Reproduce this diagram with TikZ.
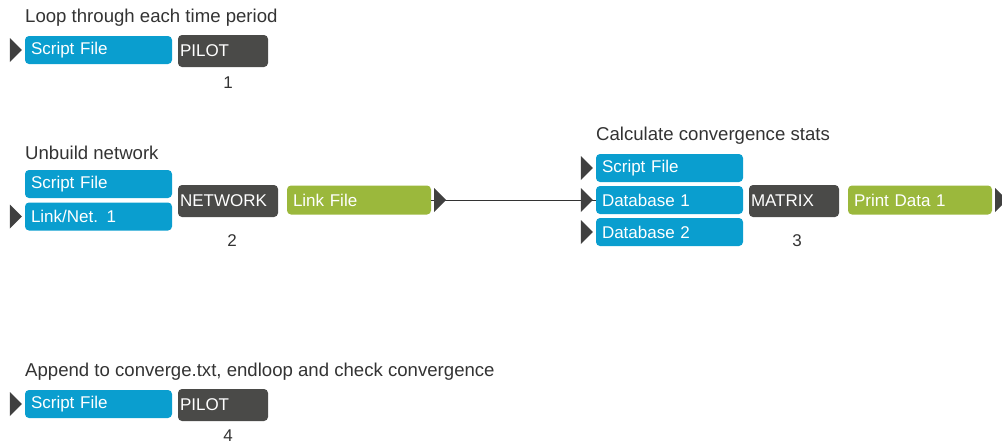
\documentclass[tikz,border=0pt]{standalone}
\usepackage{fontspec}
\setmainfont{Liberation Sans}
\definecolor{cblue}{HTML}{0A9ECF}
\definecolor{cdark}{HTML}{4A4A48}
\definecolor{cgreen}{HTML}{9BB83C}
\definecolor{ctri}{HTML}{404040}
\definecolor{ctext}{HTML}{333333}
\tikzset{
  every node/.style={font=\fontsize{17}{20}\selectfont},
  databox/.style={rounded corners=4pt, fill=cblue, text=white, minimum height=28pt,
    text width=135pt, inner xsep=6pt, inner ysep=0pt, align=left},
  progbox/.style={rounded corners=4pt, fill=cdark, text=white, minimum height=32pt,
    inner xsep=2pt, inner ysep=0pt, align=left},
  outbox/.style={rounded corners=4pt, fill=cgreen, text=white, minimum height=29pt,
    text width=132pt, inner xsep=6pt, inner ysep=0pt, align=left},
  titletext/.style={text=ctext, anchor=west, inner sep=0pt, font=\fontsize{18.6}{22}\selectfont},
  numtext/.style={text=ctext, inner sep=0pt},
  link/.style={draw=ctext, line width=1pt},
}
\newcommand{\inport}[1]{\fill[ctri] ([xshift=-15pt,yshift=12pt]#1.west) -- ([xshift=-3pt]#1.west) -- ([xshift=-15pt,yshift=-12pt]#1.west) -- cycle;}
\newcommand{\outport}[1]{\fill[ctri] ([xshift=3pt,yshift=12pt]#1.east) -- ([xshift=15pt]#1.east) -- ([xshift=3pt,yshift=-12pt]#1.east) -- cycle;}
\begin{document}
\begin{tikzpicture}[x=1pt,y=-1pt]
\useasboundingbox (0,0) rectangle (1002,445);
% Block 1
\node[titletext] (t1) at (25,18) {Loop through each time period};
\node[databox] (s1) at (98.5,50) {Script File};
\node[progbox, minimum width=90pt, text width=86pt] (p1) at (223,51) {PILOT};
\node[numtext] (n1) at (228,83) {1};
\inport{s1}
% Block 2
\node[titletext] (t2) at (25,153) {Unbuild network};
\node[databox] (s2) at (98.5,184) {Script File};
\node[databox] (l2) at (98.5,216.5) {Link/Net. 1};
\node[progbox, minimum width=100pt, text width=96pt] (p2) at (228,201) {NETWORK};
\node[numtext] (n2) at (232,241) {2};
\node[outbox] (o2) at (359,200) {Link File};
\inport{l2}
% Block 3
\node[titletext] (t3) at (596,136) {Calculate convergence stats};
\node[databox] (s3) at (669.5,168) {Script File};
\node[databox] (d31) at (669.5,200) {Database 1};
\node[databox] (d32) at (669.5,232) {Database 2};
\node[progbox, minimum width=90pt, text width=86pt] (p3) at (794,201) {MATRIX};
\node[numtext] (n3) at (797,241) {3};
\node[outbox] (o3) at (920,200) {Print Data 1};
% connector
\draw[link] (o2.east) -- (d31.west);
\outport{o2}
\inport{s3}
\inport{d31}
\inport{d32}
\outport{o3}
% Block 4
\node[titletext] (t4) at (25,372) {Append to converge.txt, endloop and check convergence};
\node[databox] (s4) at (98.5,404) {Script File};
\node[progbox, minimum width=90pt, text width=86pt] (p4) at (223,405) {PILOT};
\node[numtext] (n4) at (228,436) {4};
\inport{s4}
\end{tikzpicture}
\end{document}
